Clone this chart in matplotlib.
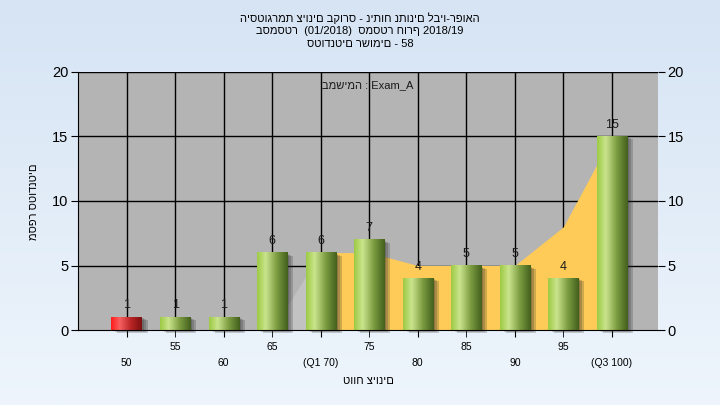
import numpy as np
import matplotlib.pyplot as plt
import matplotlib.transforms as mtransforms
from matplotlib.colors import LinearSegmentedColormap
from matplotlib.patches import Rectangle

# grade bins and counts
grades = [50, 55, 60, 65, 70, 75, 80, 85, 90, 95, 100]
tick_labels = ["50", "55", "60", "65", "(Q1 70)", "75", "80", "85", "90", "95", "(Q3 100)"]
students = [1, 1, 1, 6, 6, 7, 4, 5, 5, 4, 15]
failed = [True, False, False, False, False, False, False, False, False, False, False]
# background area (quartile band)
spread = [0, 0, 0, 0, 6, 6, 5, 5, 5, 8, 15]
q1_pos = 4
q3_pos = 10

title_lines = [
    "היסטוגרמת ציונים בקורס - ניתוח נתונים לביו-רפואה",
    "בסמסטר  (01/2018)  סמסטר חורף 2018/19",
    "סטודנטים רשומים - 58",
]
task_label = "במשימה : Exam_A"
x_label = "טווח ציונים"
y_label = "מספר סטודנטים"

plt.rcParams['font.family'] = ['Liberation Sans', 'DejaVu Sans']

fig = plt.figure(figsize=(7.2, 4.05), dpi=100)

# light blue figure gradient
bg = fig.add_axes([0, 0, 1, 1], zorder=-10)
bg_cmap = LinearSegmentedColormap.from_list("bg", ["#d6e4f4", "#eef5fc"])
bg.imshow(np.linspace(0, 1, 256).reshape(-1, 1), cmap=bg_cmap, aspect="auto",
          extent=(0, 1, 0, 1))
bg.axis("off")

ax = fig.add_axes([78 / 720, 1 - 330 / 405, 580 / 720, 258 / 405])
ax.set_facecolor("#b4b4b4")

x = np.arange(len(grades))
xmin, xmax = -1.0, 10.95

# area behind the bars: grey up to Q1, yellow between Q1 and Q3
spread = np.array(spread, dtype=float)
ax.fill_between(x[:q1_pos + 1], spread[:q1_pos + 1], color="#c2c2c2", lw=0, zorder=2)
ax.fill_between(x[q1_pos:q3_pos + 1], spread[q1_pos:q3_pos + 1], color="#fecb58", lw=0, zorder=2)

green = LinearSegmentedColormap.from_list(
    "green", [(0, "#9dcb45"), (0.28, "#cbe48e"), (0.65, "#7b9b40"), (1, "#44601e")])
red = LinearSegmentedColormap.from_list(
    "red", [(0, "#ff1c1c"), (0.28, "#f86060"), (0.65, "#b82424"), (1, "#7e1010")])
grad = np.linspace(0, 1, 64).reshape(1, -1)

w = 0.62
for i, v in enumerate(students):
    # soft shadow to the lower right
    for k, (dx, dy) in enumerate([(2, -1), (4, -2), (6, -3)]):
        off = mtransforms.ScaledTranslation(dx / 100, dy / 100, fig.dpi_scale_trans)
        ax.add_patch(Rectangle((i - w / 2, 0), w, v, transform=ax.transData + off,
                               color="#2a2a2a", alpha=0.22, lw=0, zorder=3, clip_on=False))
    cmap = red if failed[i] else green
    ax.imshow(grad, cmap=cmap, aspect="auto", extent=(i - w / 2, i + w / 2, 0, v),
              zorder=4, interpolation="bilinear")
    ax.annotate(str(v), (i, v), xytext=(0, 8.5), textcoords="offset points",
                ha="center", va="center", fontsize=9, color="#1a1a1a", zorder=6)

ax.set_xlim(xmin, xmax)
ax.set_ylim(0, 20)

# grid
for i in x:
    ax.axvline(i, color="black", lw=1, zorder=1)
for yv in [5, 10, 15, 20]:
    ax.axhline(yv, color="black", lw=1, zorder=1)

# alternating two-row x labels
ax.set_xticks(x[0::2])
ax.set_xticklabels(tick_labels[0::2])
ax.set_xticks(x[1::2], minor=True)
ax.set_xticklabels(tick_labels[1::2], minor=True)
ax.tick_params(axis="x", which="major", length=5, pad=15, labelsize=7.5)
ax.tick_params(axis="x", which="minor", length=5, pad=3.5, labelsize=7.5)

ax.set_yticks([0, 5, 10, 15, 20])
ax.tick_params(axis="y", length=5, labelsize=10.5, pad=2,
               right=True, labelright=True)

for s in ["top", "right"]:
    ax.spines[s].set_visible(False)
ax.spines["left"].set_color("black")
ax.spines["bottom"].set_color("black")
ax.spines["bottom"].set_zorder(7)

ax.text(0.5, 0.95, task_label, transform=ax.transAxes, ha="center", va="center",
        fontsize=8, color="#1a1a1a", zorder=8)

for j, line in enumerate(title_lines):
    fig.text(0.5, 1 - (18 + 13 * j) / 405, line, ha="center", va="center", fontsize=8)

fig.text(368 / 720, 1 - 381 / 405, x_label, ha="center", va="center", fontsize=8)
fig.text(34 / 720, 1 - 202 / 405, y_label, ha="center", va="center", fontsize=8,
         rotation=90)

fig.savefig("out.png", dpi=100, facecolor=fig.get_facecolor())
